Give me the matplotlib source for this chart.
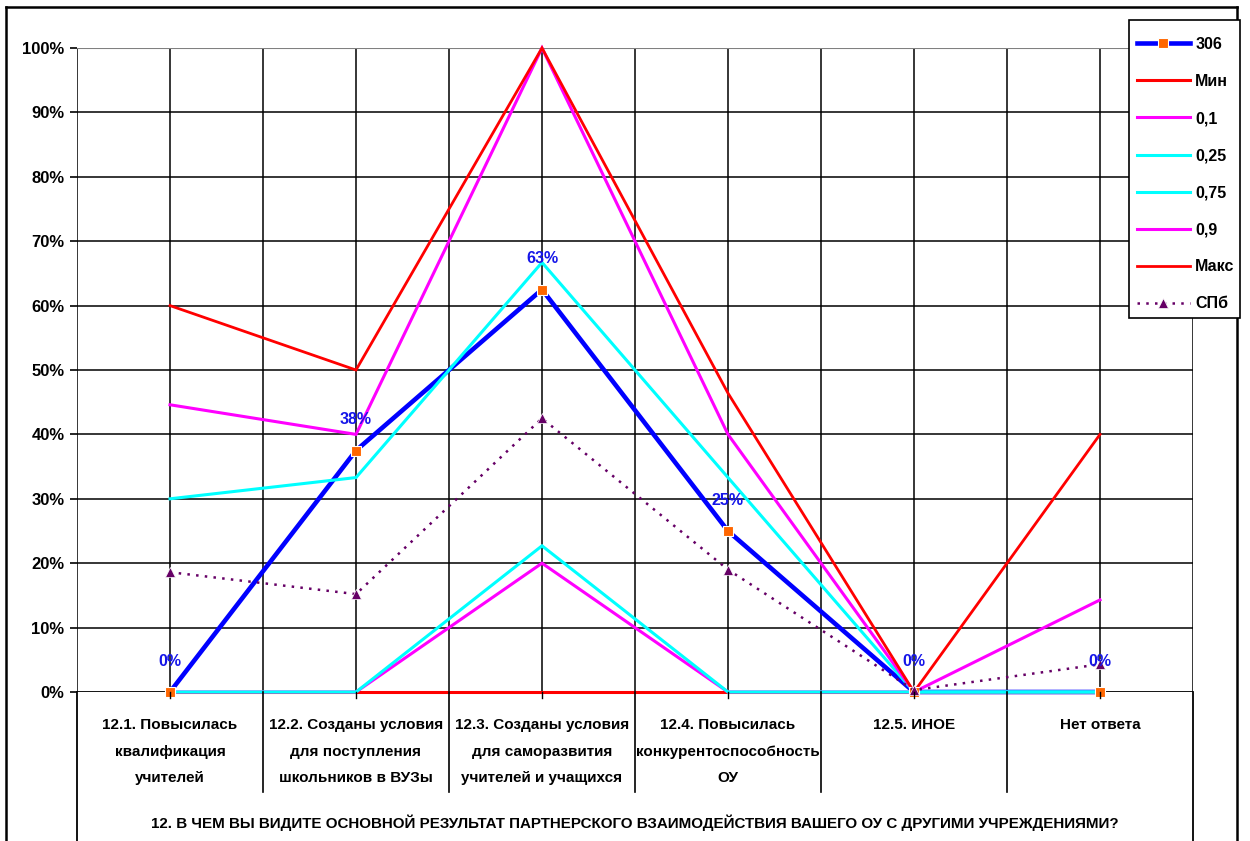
import matplotlib
matplotlib.use("Agg")
import matplotlib.pyplot as plt
from matplotlib.lines import Line2D
from matplotlib.patches import Rectangle
from matplotlib.transforms import blended_transform_factory
from matplotlib.ticker import FuncFormatter

plt.rcParams['font.family'] = ['Liberation Sans', 'DejaVu Sans']
plt.rcParams['font.weight'] = 'bold'

categories = [
    "12.1. Повысилась\nквалификация\nучителей",
    "12.2. Созданы условия\nдля поступления\nшкольников в ВУЗы",
    "12.3. Созданы условия\nдля саморазвития\nучителей и учащихся",
    "12.4. Повысилась\nконкурентоспособность\nОУ",
    "12.5. ИНОЕ",
    "Нет ответа",
]
axis_title = ("12. В ЧЕМ ВЫ ВИДИТЕ ОСНОВНОЙ РЕЗУЛЬТАТ ПАРТНЕРСКОГО ВЗАИМОДЕЙСТВИЯ "
              "ВАШЕГО ОУ С ДРУГИМИ УЧРЕЖДЕНИЯМИ?")

s306 = [0.0, 0.375, 0.625, 0.25, 0.0, 0.0]
s_min = [0.0, 0.0, 0.0, 0.0, 0.0, 0.0]
s_p10 = [0.0, 0.0, 0.20, 0.0, 0.0, 0.0]
s_p25 = [0.0, 0.0, 0.227, 0.0, 0.0, 0.0]
s_p75 = [0.30, 0.333, 0.667, 0.333, 0.0, 0.0]
s_p90 = [0.446, 0.40, 1.0, 0.40, 0.0, 0.143]
s_max = [0.60, 0.50, 1.0, 0.464, 0.0, 0.40]
s_spb = [0.186, 0.152, 0.425, 0.19, 0.003, 0.043]
labels_306 = ["0%", "38%", "63%", "25%", "0%", "0%"]
names = ['306', 'Мин', '0,1', '0,25', '0,75', '0,9', 'Макс', 'СПб']

W, H = 1250, 841
fig = plt.figure(figsize=(W / 100, H / 100), dpi=100)
ax = fig.add_axes([77 / W, 1 - 692 / H, (1193 - 77) / W, (692 - 48) / H])

x = list(range(len(categories)))
ax.set_xlim(-0.5, len(categories) - 0.5)
ax.set_ylim(0, 1)

# grid
for v in [i * 0.5 - 0.5 for i in range(2 * len(categories) + 1)]:
    ax.axvline(v, color='black', lw=1.1, zorder=1)
for v in [i / 10 for i in range(1, 10)]:
    ax.axhline(v, color='black', lw=1.1, zorder=1)
ax.axhline(1.0, color='#808080', lw=1.5, zorder=1)

for sp in ax.spines.values():
    sp.set_visible(False)
ax.axhline(0, color='black', lw=1.3, zorder=1)

ax.set_xticks([])
ax.set_yticks([i / 10 for i in range(11)])
ax.yaxis.set_major_formatter(FuncFormatter(lambda v, p: f"{v:.0%}"))
ax.tick_params(axis='y', length=5, width=1.2, direction='out', pad=4,
               labelsize=12)

# series
kw = dict(clip_on=False, solid_joinstyle='miter')
ax.plot(x, s306, color='#0000FF', lw=3.3, zorder=3, **kw)
ax.plot(x, s_min, color='#FF0000', lw=2.2, zorder=4, **kw)
ax.plot(x, s_p10, color='#FF00FF', lw=2.2, zorder=5, **kw)
ax.plot(x, s_p25, color='#00FFFF', lw=2.2, zorder=6, **kw)
ax.plot(x, s_p75, color='#00FFFF', lw=2.2, zorder=7, **kw)
ax.plot(x, s_p90, color='#FF00FF', lw=2.2, zorder=8, **kw)
ax.plot(x, s_max, color='#FF0000', lw=2.0, zorder=9, **kw)
ax.plot(x, s306, ls='none', marker='s', ms=7, mfc='#FF6600', mec='white',
        mew=0.8, zorder=10, clip_on=False)
ax.plot(x, s_spb, color='#660066', lw=1.8, ls=(0, (1, 2.5)), marker='^',
        ms=7.5, mfc='#660066', mec='white', mew=0.5, zorder=11, clip_on=False)

for xi, yi, lab in zip(x, s306, labels_306):
    ax.annotate(lab, (xi, yi), xytext=(0, 22), textcoords='offset points',
                ha='center', va='center', color='#1515E8', fontsize=11.5,
                zorder=12)

# category axis lines and labels
bt = blended_transform_factory(ax.transData, fig.transFigure)
y0 = 1 - 692 / H
for v in [i + 0.5 for i in range(len(categories) - 1)]:
    fig.add_artist(Line2D([v, v], [y0, 1 - 792 / H], transform=bt,
                          color='black', lw=1.2))
for v in x:
    fig.add_artist(Line2D([v, v], [y0, y0 - 6 / H], transform=bt,
                          color='black', lw=1.0))
for v in [-0.5, len(categories) - 0.5]:
    fig.add_artist(Line2D([v, v], [y0, 0], transform=bt,
                          color='black', lw=1.3))
for xi, lab in zip(x, categories):
    fig.text(xi, 1 - 718 / H, lab, transform=bt, ha='center', va='top',
             fontsize=11, linespacing=2.15)
fig.text((77 + 1193) / 2 / W, 1 - 823 / H, axis_title, ha='center',
         va='center', fontsize=10.9)

# outer chart border
for xs, ys in [([6 / W, 6 / W], [0, 1 - 7 / H]),
               ([6 / W, 1237 / W], [1 - 7 / H, 1 - 7 / H]),
               ([1237 / W, 1237 / W], [1 - 7 / H, 0])]:
    fig.add_artist(Line2D(xs, ys, color='black', lw=1.8))

# legend: box drawn separately so the entries can sit lower inside it
fig.add_artist(Rectangle((1129 / W, 1 - 318 / H), 111 / W, 298 / H,
                         transform=fig.transFigure, facecolor='white',
                         edgecolor='black', lw=1.2, zorder=20))
handles = [
    Line2D([], [], color='#0000FF', lw=3.3, marker='s', ms=7,
           mfc='#FF6600', mec='white', mew=0.8),
    Line2D([], [], color='#FF0000', lw=2.2),
    Line2D([], [], color='#FF00FF', lw=2.2),
    Line2D([], [], color='#00FFFF', lw=2.2),
    Line2D([], [], color='#00FFFF', lw=2.2),
    Line2D([], [], color='#FF00FF', lw=2.2),
    Line2D([], [], color='#FF0000', lw=2.0),
    Line2D([], [], color='#660066', lw=1.8, ls=(0, (1, 2.5)), marker='^',
           ms=7.5, mfc='#660066', mec='white', mew=0.5),
]
leg = fig.legend(handles, names, loc='upper left',
                 bbox_to_anchor=(1129 / W, 1 - 29 / H),
                 frameon=False, borderpad=0.5, labelspacing=1.38,
                 handlelength=3.3, handletextpad=0.35, borderaxespad=0,
                 numpoints=1, prop={'weight': 'bold', 'size': 11.5})
leg.set_zorder(21)

fig.savefig("out.png", dpi=100)
